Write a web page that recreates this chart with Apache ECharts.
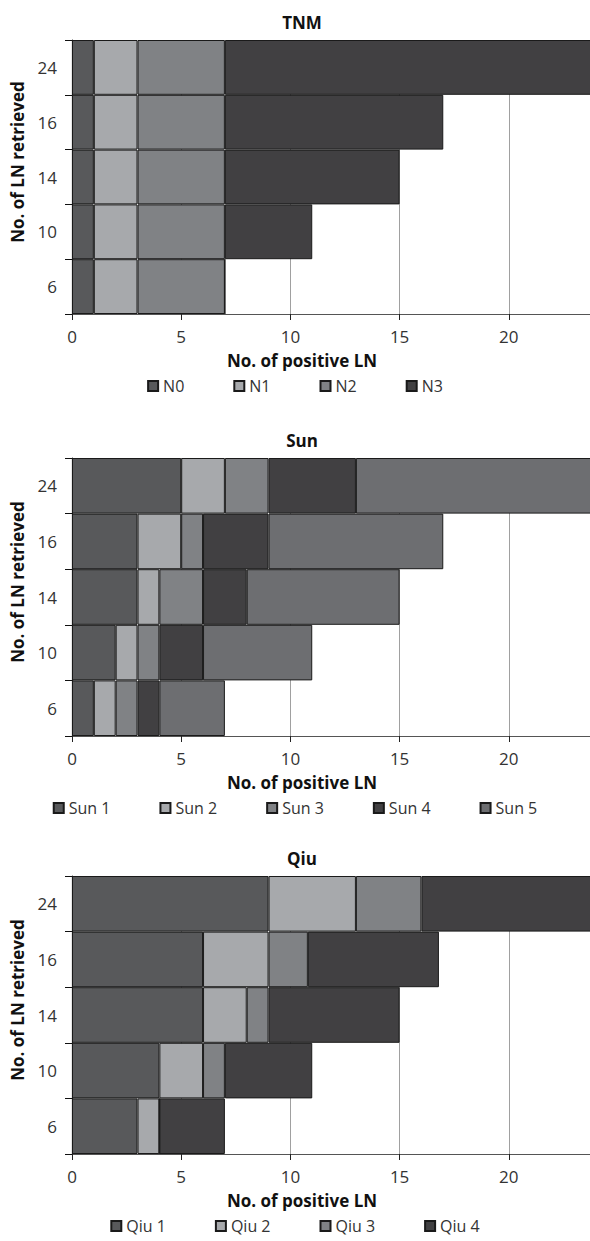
<!DOCTYPE html>
<html>
<head>
<meta charset="utf-8">
<script src="https://cdn.jsdelivr.net/npm/echarts@6/dist/echarts.min.js"></script>
<style>
html,body{margin:0;padding:0;background:#fff;}
#chart{width:590px;height:1241px;}
</style>
</head>
<body>
<div id="chart"></div>
<script>
// ---- data ----
const categories = ['6', '10', '14', '16', '24'];
const xTickValues = [0, 5, 10, 15, 20, 25];
const panelTitles = ['TNM', 'Sun', 'Qiu'];
const xAxisTitle = 'No. of positive LN';
const yAxisTitle = 'No. of LN retrieved';

const tnmNames = ['N0', 'N1', 'N2', 'N3'];
const tnmN0 = [1, 1, 1, 1, 1];
const tnmN1 = [2, 2, 2, 2, 2];
const tnmN2 = [4, 4, 4, 4, 4];
const tnmN3 = [0, 4, 8, 10, 18];

const sunNames = ['Sun 1', 'Sun 2', 'Sun 3', 'Sun 4', 'Sun 5'];
const sun1 = [1, 2, 3, 3, 5];
const sun2 = [1, 1, 1, 2, 2];
const sun3 = [1, 1, 2, 1, 2];
const sun4 = [1, 2, 2, 3, 4];
const sun5 = [3, 5, 7, 8, 12];

const qiuNames = ['Qiu 1', 'Qiu 2', 'Qiu 3', 'Qiu 4'];
const qiu1 = [3, 4, 6, 6, 9];
const qiu2 = [1, 2, 2, 3, 4];
const qiu3 = [0, 1, 1, 1.8, 3];
const qiu4 = [3, 4, 6, 6, 9];

// ---- styling ----
const C80 = '#58595b', C40 = '#a7a9ac', C60 = '#808285', C90 = '#414042', C70 = '#6d6e71';
const panels = [
  { names: tnmNames, data: [tnmN0, tnmN1, tnmN2, tnmN3], colors: [C80, C40, C60, C90] },
  { names: sunNames, data: [sun1, sun2, sun3, sun4, sun5], colors: [C80, C40, C60, C90, C70] },
  { names: qiuNames, data: [qiu1, qiu2, qiu3, qiu4], colors: [C80, C40, C60, C90] }
];

const FONT = '"Open Sans", "Noto Sans", sans-serif';
const TOPS = [40, 458, 876], HEIGHTS = [274, 278, 278];
const LEFT = 72, PW = 546, CX = 302;

const grids = [], xAxes = [], yAxes = [], series = [], legends = [], graphics = [];
panels.forEach((p, i) => {
  const top = TOPS[i], ph = HEIGHTS[i], bottom = top + ph;
  grids.push({ left: LEFT, top: top, width: PW, height: ph, containLabel: false, outerBoundsMode: 'none' });
  xAxes.push({
    type: 'value', gridIndex: i, min: xTickValues[0], max: xTickValues[xTickValues.length - 1], interval: 5,
    axisLine: { show: true, lineStyle: { color: '#555', width: 1 } },
    axisTick: { show: true, length: 6, lineStyle: { color: '#222' } },
    axisLabel: { fontFamily: FONT, fontSize: 17, color: '#333', margin: 14, showMaxLabel: false },
    splitLine: { show: true, lineStyle: { color: '#a0a0a0', width: 1 } }
  });
  yAxes.push({
    type: 'category', gridIndex: i, data: categories,
    axisLine: { show: true, lineStyle: { color: '#111', width: 1.2 } },
    axisTick: { show: true, length: 7, lineStyle: { color: '#111' } },
    axisLabel: { fontFamily: FONT, fontSize: 17, color: '#333', margin: 15 }
  });
  p.names.forEach((nm, k) => {
    series.push({
      type: 'bar', name: nm, stack: 'st' + i, xAxisIndex: i, yAxisIndex: i,
      data: p.data[k], barWidth: '100%', barCategoryGap: '0%',
      itemStyle: { color: p.colors[k], borderColor: '#1a1a1a', borderWidth: 1 },
      emphasis: { disabled: true }
    });
  });
  legends.push({
    data: p.names, top: bottom + 72 - 8, left: 'center',
    padding: [0, 5, 0, 19],
    itemWidth: 10, itemHeight: 10, itemGap: 49, icon: 'rect',
    textStyle: { fontFamily: FONT, fontSize: 16, lineHeight: 16, color: '#333' },
    selectedMode: false
  });
  graphics.push({
    type: 'text', x: CX, y: top - 18,
    style: { text: panelTitles[i], font: 'bold 17px ' + FONT, fill: '#111', align: 'center', verticalAlign: 'middle' }
  });
  graphics.push({
    type: 'text', x: CX, y: bottom + 46,
    style: { text: xAxisTitle, font: 'bold 17px ' + FONT, fill: '#111', align: 'center', verticalAlign: 'middle' }
  });
  graphics.push({
    type: 'text', x: 17, y: top + ph / 2 - 15, rotation: Math.PI / 2,
    style: { text: yAxisTitle, font: 'bold 17px ' + FONT, fill: '#111', align: 'center', verticalAlign: 'middle' }
  });
});

const chart = echarts.init(document.getElementById('chart'), null, { renderer: 'svg' });
chart.setOption({
  animation: false,
  backgroundColor: '#fff',
  legend: legends,
  grid: grids,
  xAxis: xAxes,
  yAxis: yAxes,
  series: series,
  graphic: graphics
});
</script>
</body>
</html>
